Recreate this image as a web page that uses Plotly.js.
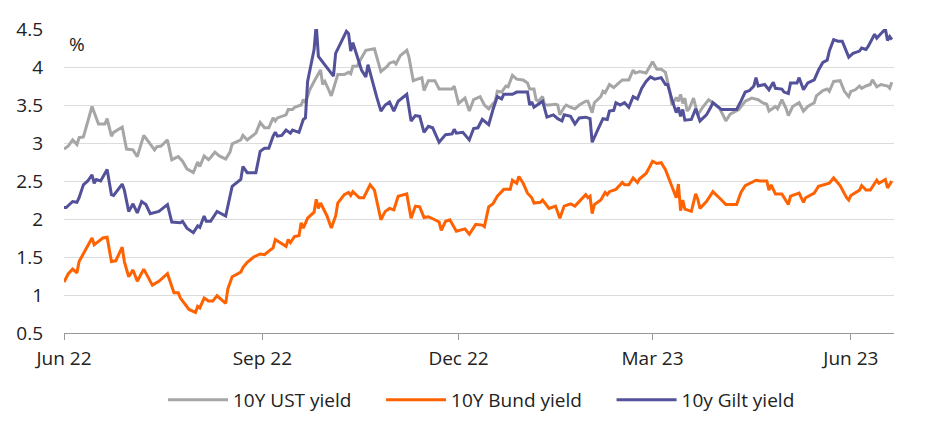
<!DOCTYPE html>
<html>
<head>
<meta charset="utf-8">
<script src="https://cdn.plot.ly/plotly-3.0.1.min.js"></script>
<style>
  html, body { margin: 0; padding: 0; background: #fff; }
  #chart { width: 952px; height: 438px; }
</style>
</head>
<body>
<div id="chart"></div>
<script>
// 10Y government bond yields, Jun 2022 - Jun 2023 (%)

const ustDates = [
  "2022-06-01","2022-06-03","2022-06-05","2022-06-07","2022-06-08","2022-06-10","2022-06-14","2022-06-17",
  "2022-06-20","2022-06-21","2022-06-23","2022-06-24","2022-06-28","2022-06-30","2022-07-03","2022-07-05",
  "2022-07-08","2022-07-11","2022-07-13","2022-07-14","2022-07-16","2022-07-19","2022-07-21","2022-07-24",
  "2022-07-26","2022-07-28","2022-07-31","2022-08-02","2022-08-03","2022-08-05","2022-08-07","2022-08-08",
  "2022-08-10","2022-08-12","2022-08-15","2022-08-17","2022-08-18","2022-08-22","2022-08-23","2022-08-25",
  "2022-08-29","2022-08-31","2022-09-02","2022-09-04","2022-09-06","2022-09-07","2022-09-08","2022-09-12",
  "2022-09-13","2022-09-15","2022-09-16","2022-09-19","2022-09-20","2022-09-21","2022-09-23","2022-09-25",
  "2022-09-28","2022-09-29","2022-09-30","2022-10-01","2022-10-03","2022-10-06","2022-10-09","2022-10-11",
  "2022-10-12","2022-10-13","2022-10-15","2022-10-16","2022-10-19","2022-10-23","2022-10-26","2022-10-29",
  "2022-10-30","2022-11-01","2022-11-02","2022-11-04","2022-11-07","2022-11-08","2022-11-10","2022-11-12",
  "2022-11-14","2022-11-15","2022-11-17","2022-11-20","2022-11-22","2022-11-28","2022-11-29","2022-12-01",
  "2022-12-04","2022-12-06","2022-12-08","2022-12-11","2022-12-13","2022-12-15","2022-12-18","2022-12-19",
  "2022-12-21","2022-12-23","2022-12-24","2022-12-26","2022-12-28","2022-12-31","2023-01-02","2023-01-03",
  "2023-01-05","2023-01-06","2023-01-07","2023-01-09","2023-01-10","2023-01-12","2023-01-15","2023-01-16",
  "2023-01-17","2023-01-19","2023-01-20","2023-01-22","2023-01-24","2023-01-26","2023-01-29","2023-01-30",
  "2023-02-01","2023-02-02","2023-02-05","2023-02-06","2023-02-07","2023-02-09","2023-02-11","2023-02-13",
  "2023-02-15","2023-02-18","2023-02-20","2023-02-21","2023-02-23","2023-02-26","2023-03-01","2023-03-03",
  "2023-03-05","2023-03-07","2023-03-09","2023-03-10","2023-03-12","2023-03-13","2023-03-14","2023-03-15",
  "2023-03-16","2023-03-17","2023-03-18","2023-03-20","2023-03-21","2023-03-22","2023-03-24","2023-03-27",
  "2023-03-29","2023-04-01","2023-04-03","2023-04-04","2023-04-06","2023-04-09","2023-04-10","2023-04-13",
  "2023-04-16","2023-04-19","2023-04-21","2023-04-23","2023-04-24","2023-04-27","2023-04-28","2023-04-30",
  "2023-05-02","2023-05-03","2023-05-05","2023-05-08","2023-05-10","2023-05-12","2023-05-15","2023-05-16",
  "2023-05-19","2023-05-21","2023-05-22","2023-05-24","2023-05-27","2023-05-29","2023-05-31","2023-06-01",
  "2023-06-03","2023-06-05","2023-06-06","2023-06-08","2023-06-10","2023-06-11","2023-06-13","2023-06-15",
  "2023-06-18","2023-06-19","2023-06-20"
];
const ustYields = [
  2.92,2.96,3.04,2.98,3.07,3.08,3.48,3.25,
  3.25,3.32,3.09,3.14,3.21,2.92,2.91,2.82,
  3.10,2.99,2.91,2.95,2.96,3.04,2.78,2.82,
  2.76,2.66,2.61,2.75,2.69,2.83,2.78,2.81,
  2.88,2.83,2.79,2.88,2.99,3.04,3.10,3.04,
  3.13,3.27,3.20,3.20,3.33,3.29,3.33,3.37,
  3.44,3.44,3.47,3.50,3.57,3.53,3.70,3.81,
  3.96,3.77,3.81,3.75,3.62,3.90,3.90,3.93,
  3.91,4.01,4.01,4.07,4.22,4.24,3.94,4.01,
  4.05,4.07,4.04,4.15,4.22,4.13,3.82,3.84,
  3.86,3.69,3.82,3.82,3.71,3.71,3.75,3.52,
  3.59,3.42,3.57,3.61,3.50,3.45,3.55,3.68,
  3.67,3.75,3.74,3.89,3.84,3.83,3.79,3.71,
  3.71,3.57,3.55,3.61,3.50,3.50,3.51,3.50,
  3.37,3.47,3.50,3.47,3.45,3.50,3.55,3.55,
  3.40,3.53,3.61,3.68,3.66,3.77,3.73,3.78,
  3.83,3.83,3.96,3.92,3.94,3.92,4.07,3.97,
  3.97,3.93,3.68,3.50,3.60,3.55,3.64,3.52,
  3.59,3.42,3.45,3.59,3.46,3.37,3.46,3.57,
  3.53,3.46,3.35,3.29,3.38,3.42,3.44,3.55,
  3.59,3.57,3.53,3.51,3.42,3.48,3.45,3.57,
  3.45,3.36,3.48,3.53,3.42,3.48,3.53,3.62,
  3.69,3.71,3.68,3.81,3.82,3.68,3.61,3.68,
  3.70,3.75,3.72,3.75,3.77,3.83,3.74,3.77,
  3.75,3.72,3.80
];

const bundDates = [
  "2022-06-01","2022-06-03","2022-06-05","2022-06-07","2022-06-08","2022-06-10","2022-06-12","2022-06-14",
  "2022-06-15","2022-06-17","2022-06-19","2022-06-21","2022-06-23","2022-06-25","2022-06-28","2022-06-29",
  "2022-07-01","2022-07-03","2022-07-05","2022-07-08","2022-07-10","2022-07-12","2022-07-15","2022-07-19",
  "2022-07-22","2022-07-24","2022-07-25","2022-07-28","2022-07-29","2022-08-01","2022-08-02","2022-08-03",
  "2022-08-05","2022-08-07","2022-08-09","2022-08-11","2022-08-15","2022-08-16","2022-08-18","2022-08-22",
  "2022-08-23","2022-08-25","2022-08-28","2022-08-31","2022-09-02","2022-09-05","2022-09-06","2022-09-07",
  "2022-09-10","2022-09-12","2022-09-13","2022-09-14","2022-09-16","2022-09-18","2022-09-19","2022-09-20",
  "2022-09-22","2022-09-24","2022-09-25","2022-09-26","2022-09-27","2022-09-28","2022-10-01","2022-10-03",
  "2022-10-05","2022-10-06","2022-10-09","2022-10-11","2022-10-12","2022-10-13","2022-10-16","2022-10-18",
  "2022-10-21","2022-10-23","2022-10-25","2022-10-26","2022-10-28","2022-10-30","2022-11-01","2022-11-03",
  "2022-11-07","2022-11-09","2022-11-11","2022-11-13","2022-11-15","2022-11-17","2022-11-20","2022-11-22",
  "2022-11-23","2022-11-25","2022-11-27","2022-11-28","2022-11-30","2022-12-04","2022-12-06","2022-12-09",
  "2022-12-12","2022-12-13","2022-12-15","2022-12-17","2022-12-19","2022-12-22","2022-12-25","2022-12-26",
  "2022-12-28","2022-12-29","2022-12-31","2023-01-02","2023-01-04","2023-01-05","2023-01-08","2023-01-09",
  "2023-01-12","2023-01-15","2023-01-17","2023-01-19","2023-01-22","2023-01-24","2023-01-26","2023-01-29",
  "2023-01-30","2023-01-31","2023-02-01","2023-02-02","2023-02-05","2023-02-07","2023-02-08","2023-02-09",
  "2023-02-12","2023-02-15","2023-02-16","2023-02-18","2023-02-20","2023-02-22","2023-02-23","2023-02-26",
  "2023-02-27","2023-03-01","2023-03-03","2023-03-05","2023-03-07","2023-03-09","2023-03-11","2023-03-12",
  "2023-03-13","2023-03-14","2023-03-15","2023-03-16","2023-03-19","2023-03-21","2023-03-22","2023-03-23",
  "2023-03-26","2023-03-29","2023-04-02","2023-04-04","2023-04-09","2023-04-11","2023-04-13","2023-04-16",
  "2023-04-18","2023-04-20","2023-04-23","2023-04-24","2023-04-25","2023-04-27","2023-04-30","2023-05-03",
  "2023-05-04","2023-05-08","2023-05-10","2023-05-11","2023-05-14","2023-05-15","2023-05-17","2023-05-20",
  "2023-05-22","2023-05-24","2023-05-27","2023-05-30","2023-05-31","2023-06-01","2023-06-03","2023-06-05",
  "2023-06-06","2023-06-08","2023-06-10","2023-06-13","2023-06-14","2023-06-17","2023-06-18","2023-06-20"
];
const bundYields = [
  1.17,1.28,1.34,1.29,1.44,1.55,1.64,1.75,
  1.66,1.71,1.75,1.76,1.44,1.45,1.63,1.44,
  1.24,1.33,1.18,1.34,1.24,1.13,1.18,1.28,
  1.03,1.03,0.96,0.84,0.81,0.77,0.85,0.83,
  0.96,0.92,0.92,0.99,0.89,1.08,1.24,1.30,
  1.36,1.43,1.50,1.54,1.53,1.60,1.62,1.73,
  1.68,1.64,1.73,1.69,1.77,1.78,1.95,1.88,
  2.01,2.06,2.09,2.26,2.14,2.21,2.04,1.88,
  2.04,2.21,2.32,2.35,2.31,2.36,2.28,2.28,
  2.45,2.38,2.14,1.99,2.10,2.14,2.12,2.30,
  2.33,2.01,2.17,2.16,2.02,2.03,1.99,1.96,
  1.85,1.97,1.99,1.94,1.84,1.87,1.80,1.93,
  1.92,1.90,2.16,2.20,2.30,2.39,2.39,2.51,
  2.47,2.56,2.47,2.34,2.28,2.21,2.22,2.25,
  2.14,2.17,2.01,2.17,2.20,2.17,2.23,2.32,
  2.28,2.30,2.07,2.19,2.25,2.35,2.32,2.36,
  2.39,2.48,2.45,2.45,2.54,2.48,2.53,2.60,
  2.65,2.76,2.73,2.74,2.65,2.50,2.34,2.28,
  2.46,2.11,2.25,2.13,2.10,2.33,2.26,2.14,
  2.23,2.36,2.25,2.19,2.19,2.35,2.44,2.48,
  2.51,2.50,2.50,2.38,2.45,2.33,2.33,2.19,
  2.30,2.34,2.22,2.28,2.32,2.34,2.43,2.45,
  2.47,2.54,2.44,2.28,2.25,2.31,2.35,2.38,
  2.44,2.38,2.38,2.51,2.47,2.52,2.41,2.50
];

const giltDates = [
  "2022-06-01","2022-06-02","2022-06-05","2022-06-07","2022-06-08","2022-06-10","2022-06-12","2022-06-14",
  "2022-06-15","2022-06-16","2022-06-18","2022-06-21","2022-06-23","2022-06-24","2022-06-28","2022-06-29",
  "2022-07-01","2022-07-03","2022-07-05","2022-07-07","2022-07-09","2022-07-11","2022-07-15","2022-07-19",
  "2022-07-21","2022-07-25","2022-07-26","2022-07-28","2022-07-31","2022-08-02","2022-08-03","2022-08-05",
  "2022-08-06","2022-08-08","2022-08-11","2022-08-15","2022-08-17","2022-08-18","2022-08-22","2022-08-23",
  "2022-08-25","2022-08-29","2022-08-31","2022-09-02","2022-09-04","2022-09-06","2022-09-07","2022-09-08",
  "2022-09-10","2022-09-12","2022-09-14","2022-09-15","2022-09-18","2022-09-20","2022-09-21","2022-09-22",
  "2022-09-25","2022-09-26","2022-09-27","2022-09-29","2022-10-04","2022-10-05","2022-10-08","2022-10-10",
  "2022-10-11","2022-10-12","2022-10-13","2022-10-17","2022-10-19","2022-10-20","2022-10-24","2022-10-26",
  "2022-10-28","2022-10-30","2022-11-01","2022-11-03","2022-11-07","2022-11-09","2022-11-11","2022-11-13",
  "2022-11-15","2022-11-17","2022-11-19","2022-11-22","2022-11-25","2022-11-28","2022-11-29","2022-11-30",
  "2022-12-03","2022-12-06","2022-12-08","2022-12-10","2022-12-12","2022-12-13","2022-12-15","2022-12-17",
  "2022-12-19","2022-12-21","2022-12-22","2022-12-26","2022-12-28","2023-01-02","2023-01-03","2023-01-04",
  "2023-01-05","2023-01-09","2023-01-11","2023-01-14","2023-01-16","2023-01-18","2023-01-19","2023-01-22",
  "2023-01-24","2023-01-26","2023-01-29","2023-01-31","2023-02-01","2023-02-04","2023-02-06","2023-02-08",
  "2023-02-09","2023-02-11","2023-02-12","2023-02-14","2023-02-16","2023-02-18","2023-02-20","2023-02-22",
  "2023-02-24","2023-02-26","2023-02-28","2023-03-02","2023-03-05","2023-03-07","2023-03-08","2023-03-10",
  "2023-03-12","2023-03-13","2023-03-14","2023-03-15","2023-03-16","2023-03-19","2023-03-21","2023-03-23",
  "2023-03-26","2023-03-28","2023-03-29","2023-04-02","2023-04-09","2023-04-11","2023-04-13","2023-04-15",
  "2023-04-17","2023-04-18","2023-04-19","2023-04-22","2023-04-24","2023-04-26","2023-04-27","2023-04-30",
  "2023-05-01","2023-05-03","2023-05-04","2023-05-07","2023-05-08","2023-05-10","2023-05-12","2023-05-15",
  "2023-05-17","2023-05-19","2023-05-21","2023-05-22","2023-05-24","2023-05-26","2023-05-28","2023-05-31",
  "2023-06-02","2023-06-05","2023-06-06","2023-06-08","2023-06-09","2023-06-12","2023-06-13","2023-06-15",
  "2023-06-17","2023-06-18","2023-06-19","2023-06-20"
];
const giltYields = [
  2.15,2.15,2.23,2.22,2.28,2.45,2.50,2.58,
  2.47,2.52,2.50,2.65,2.32,2.31,2.46,2.38,
  2.10,2.20,2.08,2.23,2.19,2.07,2.10,2.19,
  1.96,1.95,1.97,1.88,1.82,1.91,1.89,2.04,
  1.97,1.97,2.10,2.04,2.30,2.43,2.52,2.69,
  2.61,2.61,2.89,2.93,2.93,3.09,3.14,3.09,
  3.10,3.17,3.13,3.17,3.14,3.31,3.33,3.81,
  4.23,4.56,4.14,4.07,3.88,4.18,4.36,4.47,
  4.44,4.21,4.32,3.96,3.87,4.03,3.61,3.42,
  3.50,3.54,3.42,3.55,3.64,3.29,3.36,3.35,
  3.14,3.22,3.20,3.01,3.11,3.12,3.18,3.13,
  3.14,3.04,3.19,3.20,3.31,3.29,3.24,3.44,
  3.61,3.58,3.64,3.64,3.67,3.67,3.50,3.54,
  3.47,3.55,3.34,3.37,3.32,3.29,3.37,3.35,
  3.25,3.33,3.34,3.32,3.01,3.20,3.32,3.31,
  3.42,3.43,3.53,3.50,3.53,3.47,3.61,3.58,
  3.72,3.81,3.87,3.84,3.86,3.77,3.77,3.57,
  3.40,3.47,3.35,3.44,3.30,3.31,3.45,3.29,
  3.37,3.47,3.53,3.44,3.44,3.55,3.67,3.69,
  3.75,3.86,3.75,3.77,3.70,3.80,3.72,3.71,
  3.67,3.65,3.79,3.79,3.86,3.70,3.79,3.83,
  3.96,4.06,4.09,4.21,4.36,4.34,4.34,4.13,
  4.18,4.21,4.25,4.23,4.27,4.43,4.38,4.44,
  4.50,4.35,4.40,4.36
];

const seriesNames = ["10Y UST yield", "10Y Bund yield", "10y Gilt yield"];
const seriesColors = ["#a6a6a6", "#ff6200", "#525199"];

const fontFamily = "'Open Sans', 'Liberation Sans', Arial, sans-serif";
const textColor = "#222222";

// extra gap after each legend entry except the last one
const legendPad = "\u00a0\u00a0\u00a0\u00a0\u00a0";

const traces = [
    { x: ustDates, y: ustYields },
    { x: bundDates, y: bundYields },
    { x: giltDates, y: giltYields }
].map((s, i) => ({
    x: s.x,
    y: s.y,
    type: "scatter",
    mode: "lines",
    name: seriesNames[i] + (i < seriesNames.length - 1 ? legendPad : ""),
    line: { color: seriesColors[i], width: 3 },
    hoverinfo: "skip"
}));

const layout = {
    width: 952,
    height: 438,
    margin: { l: 64, r: 58, t: 29, b: 105 },
    paper_bgcolor: "#ffffff",
    plot_bgcolor: "#ffffff",
    font: { family: fontFamily, size: 19, color: textColor },
    showlegend: true,
    legend: {
        orientation: "h",
        x: 0.503,
        xanchor: "center",
        y: -0.22,
        yanchor: "middle",
        itemwidth: 60,
        font: { family: fontFamily, size: 19, color: textColor }
    },
    xaxis: {
        type: "date",
        range: ["2022-06-01", "2023-06-21"],
        tick0: "2022-06-01",
        dtick: "M3",
        tickformat: "%b %y",
        ticks: "outside",
        ticklen: 6,
        tickcolor: "#999999",
        ticklabelstandoff: 2,
        showline: true,
        linecolor: "#999999",
        linewidth: 1,
        showgrid: false,
        zeroline: false,
        fixedrange: true
    },
    yaxis: {
        range: [0.5, 4.5],
        tick0: 0.5,
        dtick: 0.5,
        ticks: "",
        ticklabelstandoff: 20,
        showline: false,
        showgrid: true,
        gridcolor: "#dcdcdc",
        gridwidth: 1,
        zeroline: false,
        fixedrange: true
    },
    annotations: [{
        text: "%",
        xref: "paper",
        yref: "paper",
        x: 0.004,
        y: 0.95,
        xanchor: "left",
        yanchor: "middle",
        showarrow: false,
        font: { family: fontFamily, size: 19, color: textColor }
    }]
};

Plotly.newPlot("chart", traces, layout, { displayModeBar: false, staticPlot: true });
</script>
</body>
</html>
